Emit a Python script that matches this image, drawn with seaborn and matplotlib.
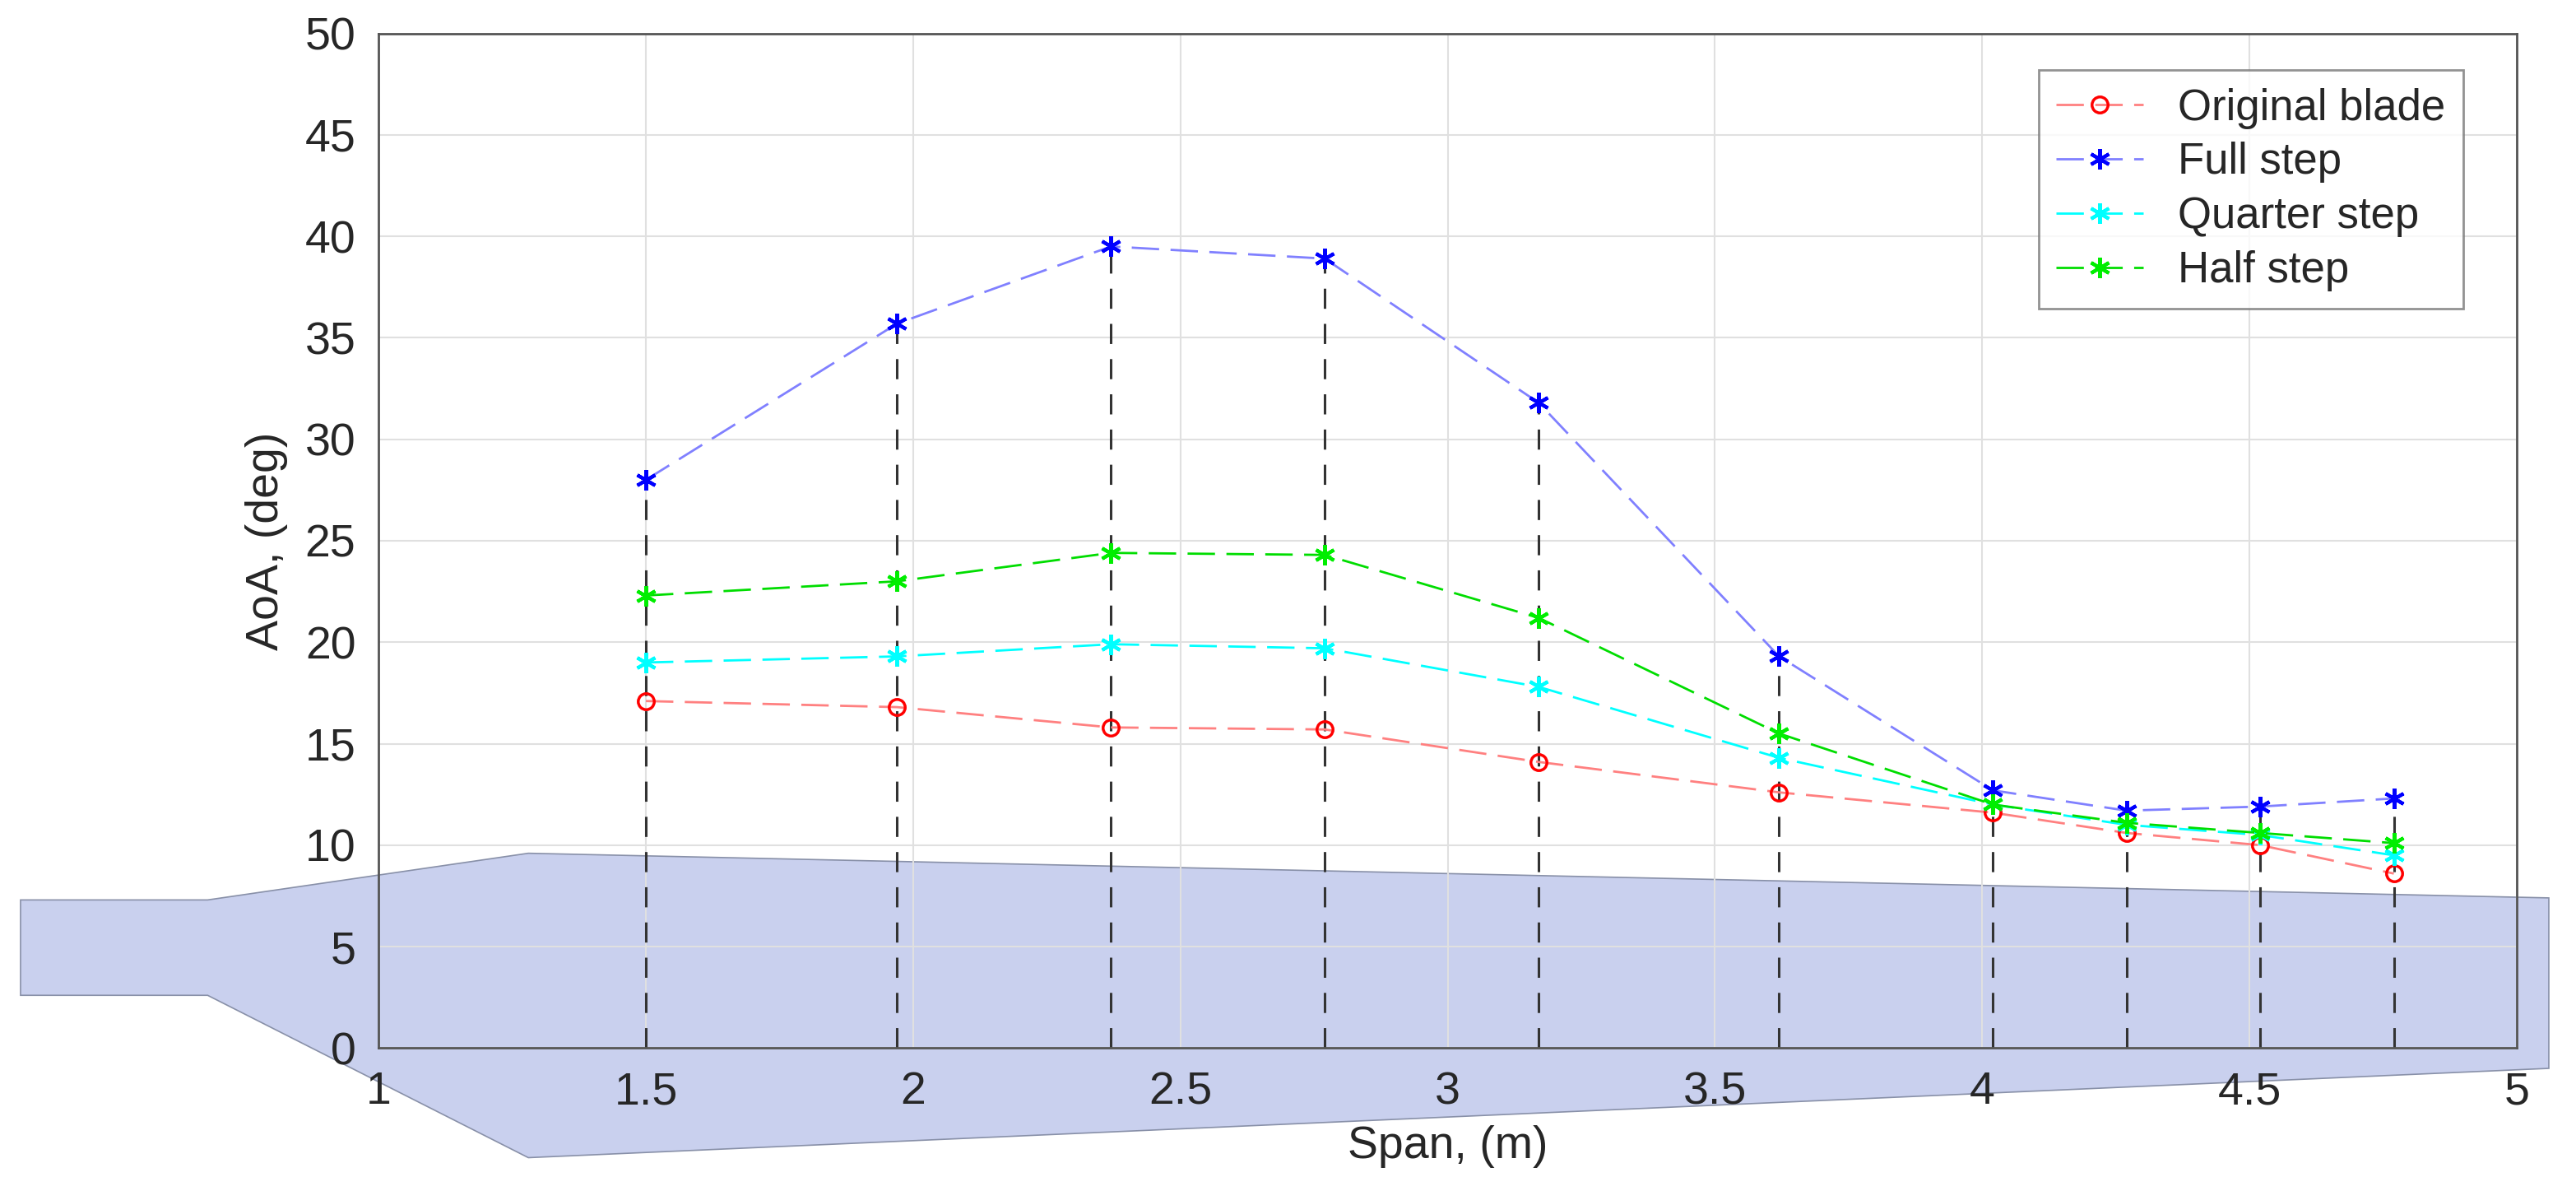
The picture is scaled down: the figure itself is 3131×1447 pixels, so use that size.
import matplotlib
matplotlib.use("Agg")
import matplotlib.pyplot as plt
import seaborn as sns
import pandas as pd

span = [1.5, 1.97, 2.37, 2.77, 3.17, 3.62, 4.02, 4.27, 4.52, 4.77]
original = [17.1, 16.8, 15.8, 15.7, 14.1, 12.6, 11.6, 10.6, 10.0, 8.6]
full = [28.0, 35.7, 39.5, 38.9, 31.8, 19.3, 12.7, 11.7, 11.9, 12.3]
quarter = [19.0, 19.3, 19.9, 19.7, 17.8, 14.3, 12.0, 11.0, 10.5, 9.5]
half = [22.3, 23.0, 24.4, 24.3, 21.2, 15.5, 12.0, 11.1, 10.6, 10.1]
blade_x = [0.33, 0.68, 1.28, 5.06, 5.06, 1.28, 0.68, 0.33]
blade_y = [7.3, 7.3, 9.6, 7.4, -1.0, -5.4, 2.6, 2.6]

sns.set_theme(style="whitegrid")
plt.rcParams['font.family'] = ['Liberation Sans', 'DejaVu Sans']
fig = plt.figure(figsize=(31.31, 14.47), dpi=100)
ax = fig.add_axes([0.147, 0.12, 0.83, 0.852])
ax.set_facecolor('white')

ax.fill(blade_x, blade_y, color='#c9d0ee', edgecolor='#8890a8', lw=1.2, clip_on=False, zorder=0)

tops = [max(v) for v in zip(original, full, quarter, half)]
ax.vlines(span, 0, tops, colors='#333333', linestyles=(0, (8, 6)), lw=2.2, zorder=2)

series = [("Original blade", original, '#ff8080', 'red', 'o'),
          ("Full step", full, '#8080ff', 'blue', (6, 2, 0)),
          ("Quarter step", quarter, 'cyan', 'cyan', (6, 2, 0)),
          ("Half step", half, '#00dd00', '#00ee00', (6, 2, 0))]
for name, vals, lc, mc, m in series:
    df = pd.DataFrame({'x': span, 'y': vals})
    sns.lineplot(data=df, x='x', y='y', ax=ax, color=lc, lw=2, dashes=False,
                 linestyle=(0, (12, 5)), marker=m, markersize=14 if m == 'o' else 18,
                 markerfacecolor='none' if m == 'o' else mc, markeredgecolor=mc,
                 markeredgewidth=2.5 if m == 'o' else 3, label=name, zorder=3)

ax.set_xlim(1, 5)
ax.set_ylim(0, 50)
ax.set_xticks([1, 1.5, 2, 2.5, 3, 3.5, 4, 4.5, 5])
ax.set_xticklabels(['1', '1.5', '2', '2.5', '3', '3.5', '4', '4.5', '5'])
ax.set_yticks(range(0, 51, 5))
ax.tick_params(labelsize=40, length=0, pad=20)
ax.grid(True, color='#e0e0e0', lw=1.5)
for s in ax.spines.values():
    s.set_color('#555555'); s.set_linewidth(2)
ax.set_xlabel('Span, (m)', fontsize=40, labelpad=10)
ax.set_ylabel('AoA, (deg)', fontsize=40, labelpad=15)
leg = ax.legend(loc='upper right', fontsize=38, frameon=True, fancybox=False,
                edgecolor='#777777', handlelength=2.0, borderpad=0.4,
                labelspacing=0.3, bbox_to_anchor=(0.985, 0.985))
leg.get_frame().set_linewidth(2)
fig.savefig('out.png', dpi=100)
